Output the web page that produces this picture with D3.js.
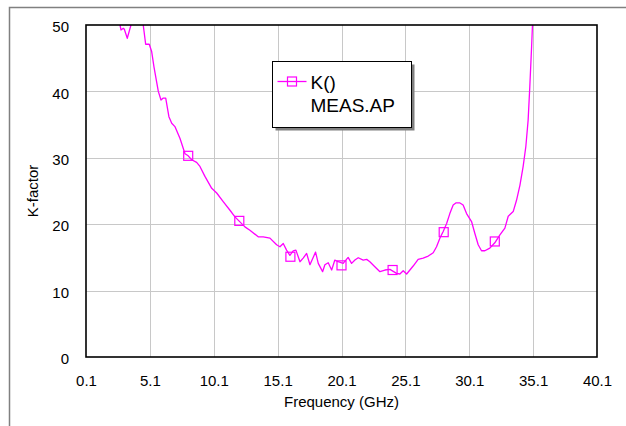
<!DOCTYPE html>
<html>
<head>
<meta charset="utf-8">
<script src="https://cdn.jsdelivr.net/npm/d3@7"></script>
<style>
  body { margin: 0; background: #fff; }
  svg { display: block; font-family: "Liberation Sans", Arial, sans-serif; }
</style>
</head>
<body>
<svg id="chart" width="626" height="426"></svg>
<script>
// DATA
const freq = [0.1, 1.0, 2.0, 2.6, 2.76, 2.84, 3.02, 3.10, 3.33, 3.62, 4.0, 4.58, 4.77, 5.05, 5.24, 5.42, 5.76, 5.97, 6.15, 6.34,
  6.59, 6.81, 7.06, 7.46, 7.85, 8.1, 8.37, 8.76, 9.02, 9.41, 9.94, 10.33, 10.84, 11.37, 11.76, 12.07, 12.54, 12.93, 13.58, 13.97,
  14.50, 15.02, 15.28, 15.54, 15.8, 16.06, 16.32, 16.53, 16.85, 17.1, 17.37, 17.63, 18.07, 18.28, 18.62, 18.80, 19.06, 19.33, 19.58, 19.84,
  20.23, 20.62, 20.89, 21.15, 21.41, 21.80, 22.07, 22.32, 22.71, 23.11, 23.5, 23.89, 24.41, 24.67, 24.93, 25.2, 25.71, 26.10, 26.49, 26.89,
  27.28, 27.54, 27.80, 28.06, 28.33, 28.58, 28.84, 29.05, 29.37, 29.62, 29.89, 30.28, 30.54, 30.8, 31.06, 31.32, 31.71, 32.1, 32.5, 32.89,
  33.15, 33.54, 33.80, 34.07, 34.32, 34.53, 34.71, 34.84, 34.98, 35.05, 35.2];
const kfactor = [150, 95, 70, 55, 50.0, 49.25, 49.5, 49.35, 48.0, 50.0, 52.5, 50.0, 47.1, 47.1, 46.0, 43.7, 40.0, 38.7, 39.0, 39.0,
  36.2, 35.2, 34.7, 32.9, 30.6, 30.3, 29.7, 29.3, 28.7, 27.2, 25.4, 24.7, 23.4, 22.1, 21.1, 20.5, 19.6, 19.1, 18.1, 18.1,
  17.9, 16.9, 16.6, 17.1, 16.1, 15.3, 16.0, 16.1, 14.35, 14.9, 15.6, 13.9, 15.8, 14.1, 12.85, 13.9, 14.2, 13.1, 14.6, 14.35,
  14.1, 15.0, 14.1, 14.6, 14.95, 14.6, 14.7, 14.35, 13.6, 12.85, 13.1, 13.2, 12.6, 12.5, 13.0, 12.5, 13.7, 14.7, 14.9, 15.2,
  15.7, 16.6, 17.9, 18.9, 20.1, 21.6, 22.9, 23.2, 23.2, 22.9, 21.6, 20.4, 18.6, 16.9, 16.0, 16.0, 16.4, 17.2, 18.4, 19.4,
  21.2, 21.9, 23.6, 25.9, 28.7, 31.7, 35.7, 40.7, 46.7, 50.0, 58];

const markerFreq = [0.1, 4.1, 8.1, 12.1, 16.1, 20.1, 24.1, 28.1, 32.1];
const markerK = [150, 52, 30.3, 20.5, 15.1, 13.8, 13.1, 18.8, 17.4];

const xTicks = [0.1, 5.1, 10.1, 15.1, 20.1, 25.1, 30.1, 35.1, 40.1];
const yTicks = [0, 10, 20, 30, 40, 50];

const seriesName = "K()";
const seriesSub = "MEAS.AP";
const xTitle = "Frequency (GHz)";
const yTitle = "K-factor";

// LAYOUT
const svg = d3.select("#chart");
const plot = { left: 86, right: 597, top: 25, bottom: 357 };
const color = "#ff00ff";

const x = d3.scaleLinear().domain([0.1, 40.1]).range([plot.left, plot.right]);
const y = d3.scaleLinear().domain([0, 50]).range([plot.bottom, plot.top]);

// outer frame (only top and left visible)
svg.append("path")
  .attr("d", `M9.5,426 L9.5,7.5 L626,7.5`)
  .attr("fill", "none")
  .attr("stroke", "#808080")
  .attr("stroke-width", 1.5);

svg.append("clipPath").attr("id", "clip")
  .append("rect")
  .attr("x", plot.left).attr("y", plot.top)
  .attr("width", plot.right - plot.left).attr("height", plot.bottom - plot.top);

// grid
const grid = svg.append("g");
grid.selectAll(".vg").data(xTicks.slice(1, -1)).join("line")
  .attr("x1", d => Math.round(x(d)) + 0.5).attr("x2", d => Math.round(x(d)) + 0.5)
  .attr("y1", plot.top).attr("y2", plot.bottom)
  .attr("stroke", "#c8c8c8").attr("stroke-width", 1);
grid.selectAll(".hg").data(yTicks.slice(1, -1)).join("line")
  .attr("y1", d => Math.round(y(d)) + 0.5).attr("y2", d => Math.round(y(d)) + 0.5)
  .attr("x1", plot.left).attr("x2", plot.right)
  .attr("stroke", "#c8c8c8").attr("stroke-width", 1);

// axes: just labels, no tick marks
const xAxis = d3.axisBottom(x).tickValues(xTicks).tickSize(0).tickPadding(18).tickFormat(d3.format(".1f"));
svg.append("g")
  .attr("transform", `translate(0,${plot.bottom})`)
  .call(xAxis)
  .call(g => g.select(".domain").remove())
  .selectAll("text")
  .attr("font-size", 15).attr("fill", "#000")
  .attr("font-family", "Liberation Sans, Arial, sans-serif");

const yAxis = d3.axisLeft(y).tickValues(yTicks).tickSize(0).tickPadding(17).tickFormat(d3.format("d"));
svg.append("g")
  .attr("transform", `translate(${plot.left},0)`)
  .call(yAxis)
  .call(g => g.select(".domain").remove())
  .selectAll("text")
  .attr("font-size", 15).attr("fill", "#000").attr("dy", "0.45em")
  .attr("font-family", "Liberation Sans, Arial, sans-serif");

// series
const pts = freq.map((f, i) => ({ f: f, k: kfactor[i] }));
const line = d3.line().x(d => x(d.f)).y(d => y(d.k));
const series = svg.append("g").attr("clip-path", "url(#clip)");
series.append("path")
  .datum(pts)
  .attr("d", line)
  .attr("fill", "none")
  .attr("stroke", color)
  .attr("stroke-width", 1.3)
  .attr("stroke-linejoin", "round");

const ms = 9;
series.selectAll(".mk").data(markerFreq.map((f, i) => ({ f: f, k: markerK[i] }))).join("rect")
  .attr("x", d => x(d.f) - ms / 2).attr("y", d => y(d.k) - ms / 2)
  .attr("width", ms).attr("height", ms)
  .attr("fill", "none").attr("stroke", color).attr("stroke-width", 1.2);

// plot frame
svg.append("rect")
  .attr("x", plot.left).attr("y", plot.top)
  .attr("width", plot.right - plot.left).attr("height", plot.bottom - plot.top)
  .attr("fill", "none").attr("stroke", "#000").attr("stroke-width", 1.6);

// axis titles
svg.append("text")
  .attr("x", (plot.left + plot.right) / 2).attr("y", 407)
  .attr("text-anchor", "middle").attr("font-size", 15)
  .text(xTitle);
svg.append("text")
  .attr("transform", `translate(38,${(plot.top + plot.bottom) / 2}) rotate(-90)`)
  .attr("text-anchor", "middle").attr("font-size", 15)
  .text(yTitle);

// legend
const lg = { x: 272.5, y: 61.5, w: 139, h: 66 };
svg.append("rect")
  .attr("x", lg.x + 3).attr("y", lg.y + 3).attr("width", lg.w).attr("height", lg.h)
  .attr("fill", "#808080");
svg.append("rect")
  .attr("x", lg.x).attr("y", lg.y).attr("width", lg.w).attr("height", lg.h)
  .attr("fill", "#fff").attr("stroke", "#000").attr("stroke-width", 1);
svg.append("line")
  .attr("x1", lg.x + 5).attr("x2", lg.x + 34).attr("y1", 81.5).attr("y2", 81.5)
  .attr("stroke", color).attr("stroke-width", 1.3);
svg.append("rect")
  .attr("x", lg.x + 19.5 - ms / 2).attr("y", 81.5 - ms / 2).attr("width", ms).attr("height", ms)
  .attr("fill", "none").attr("stroke", color).attr("stroke-width", 1.2);
svg.append("text").attr("x", lg.x + 38).attr("y", 88.5).attr("font-size", 19).text(seriesName);
svg.append("text").attr("x", lg.x + 38).attr("y", 111.5).attr("font-size", 19).text(seriesSub);
</script>
</body>
</html>
